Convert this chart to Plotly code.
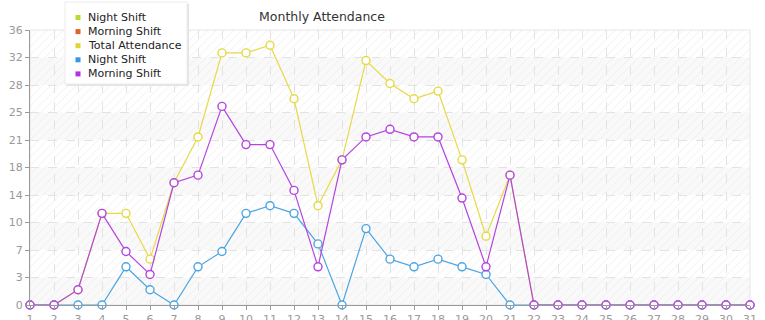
import math
import plotly.graph_objects as go

days = list(range(1, 32))
total_attendance = [0, 0, 2, 12, 12, 6, 16, 22, 33, 33, 34, 27, 13, 19, 32, 29, 27, 28, 19, 9, 17,
                    0, 0, 0, 0, 0, 0, 0, 0, 0, 0]
night_shift = [0, 0, 0, 0, 5, 2, 0, 5, 7, 12, 13, 12, 8, 0, 10, 6, 5, 6, 5, 4, 0,
               0, 0, 0, 0, 0, 0, 0, 0, 0, 0]
morning_shift = [0, 0, 2, 12, 7, 4, 16, 17, 26, 21, 21, 15, 5, 19, 22, 23, 22, 22, 14, 5, 17,
                 0, 0, 0, 0, 0, 0, 0, 0, 0, 0]

legend_names = ["Night Shift", "Morning Shift", "Total Attendance", "Night Shift", "Morning Shift"]
legend_colors = ["#b9d92e", "#e0622a", "#e2d334", "#3a96e0", "#b530e0"]

y_max = 36
y_ticks = [y_max * i / 10 for i in range(11)]
y_labels = [str(math.floor(v + 1e-9)) for v in y_ticks]

FONT = "DejaVu Sans"
W, H = 765, 320
ML, MR, MT, MB = 30, 15, 30, 15
PW, PH = W - ML - MR, H - MT - MB


def px(xp):
    return (xp - ML) / PW


def py(yp):
    return (H - MB - yp) / PH


fig = go.Figure()

# hatched plot background
fig.add_trace(go.Bar(
    x=[16], y=[y_max], width=[30], base=[0],
    marker=dict(color="rgba(0,0,0,0)", line=dict(width=0),
                pattern=dict(shape="/", fgcolor="#e4e4e4", fgopacity=0.7, size=6, solidity=0.12)),
    hoverinfo="skip", showlegend=False,
))

series = [
    (total_attendance, "#e6da45"),
    (night_shift, "#4ea5e2"),
    (morning_shift, "#b444df"),
]
for vals, col in series:
    fig.add_trace(go.Scatter(
        x=days, y=vals, mode="lines+markers",
        line=dict(color=col, width=1.2),
        marker=dict(symbol="circle", size=8, color="white", line=dict(color=col, width=1.4)),
        cliponaxis=False, showlegend=False,
    ))

shapes = []
for i in range(10):
    if i % 2 == 0:
        shapes.append(dict(type="rect", xref="x domain", yref="y", x0=0, x1=1,
                           y0=y_ticks[i], y1=y_ticks[i + 1], fillcolor="rgba(249,249,249,0.92)",
                           line=dict(width=0), layer="below"))
shapes.append(dict(type="rect", xref="x domain", yref="y domain", x0=0, x1=1, y0=0, y1=1,
                   fillcolor="rgba(0,0,0,0)", line=dict(color="#e6e6e6", width=1), layer="below"))

# manual legend box (with soft shadow)
lx0, lx1, ly0, ly1 = 65, 187, 2, 84
shapes.append(dict(type="rect", xref="paper", yref="paper", x0=px(lx0 + 2), x1=px(lx1 + 2),
                   y0=py(ly1 + 2), y1=py(ly0 + 2), fillcolor="#e4e4e4",
                   line=dict(width=0), layer="above"))
shapes.append(dict(type="rect", xref="paper", yref="paper", x0=px(lx0), x1=px(lx1),
                   y0=py(ly1), y1=py(ly0), fillcolor="white",
                   line=dict(color="#ececec", width=1), layer="above"))

annotations = []
row_y0, row_gap = 17.5, 14.1
for k, (name, col) in enumerate(zip(legend_names, legend_colors)):
    cy = row_y0 + k * row_gap
    shapes.append(dict(type="rect", xref="paper", yref="paper", x0=px(75.5), x1=px(80.5),
                       y0=py(cy + 2.5), y1=py(cy - 2.5), fillcolor=col,
                       line=dict(width=0), layer="above"))
    annotations.append(dict(text=name, xref="paper", yref="paper", x=px(86), y=py(cy),
                            xanchor="left", yanchor="middle", showarrow=False,
                            font=dict(family=FONT, size=11, color="#222222")))

fig.update_layout(
    width=W, height=H,
    margin=dict(l=ML, r=MR, t=MT, b=MB),
    paper_bgcolor="white", plot_bgcolor="white",
    font=dict(family=FONT, size=11, color="#999999"),
    title=dict(text="Monthly Attendance", x=322 / W, xref="container", xanchor="center",
               y=1 - 17 / H, yref="container", yanchor="middle",
               font=dict(family=FONT, size=12.5, color="#333333")),
    showlegend=False,
    shapes=shapes,
    annotations=annotations,
    bargap=0,
)
fig.update_xaxes(range=[1, 31], tickmode="array", tickvals=days, ticktext=[str(d) for d in days],
                 showgrid=True, gridcolor="#e3e3e3", griddash="dash", gridwidth=1,
                 showline=True, linecolor="#999999", linewidth=1,
                 ticks="outside", ticklen=4, tickcolor="#999999",
                 tickfont=dict(size=11, color="#999999"), zeroline=False, automargin=False)
fig.update_yaxes(range=[0, y_max], tickmode="array", tickvals=y_ticks, ticktext=y_labels,
                 showgrid=True, gridcolor="#e3e3e3", griddash="dash", gridwidth=1,
                 showline=True, linecolor="#999999", linewidth=1,
                 ticks="outside", ticklen=4, tickcolor="#999999",
                 tickfont=dict(size=11, color="#999999"), zeroline=False, automargin=False)

fig.write_html("out.html")
